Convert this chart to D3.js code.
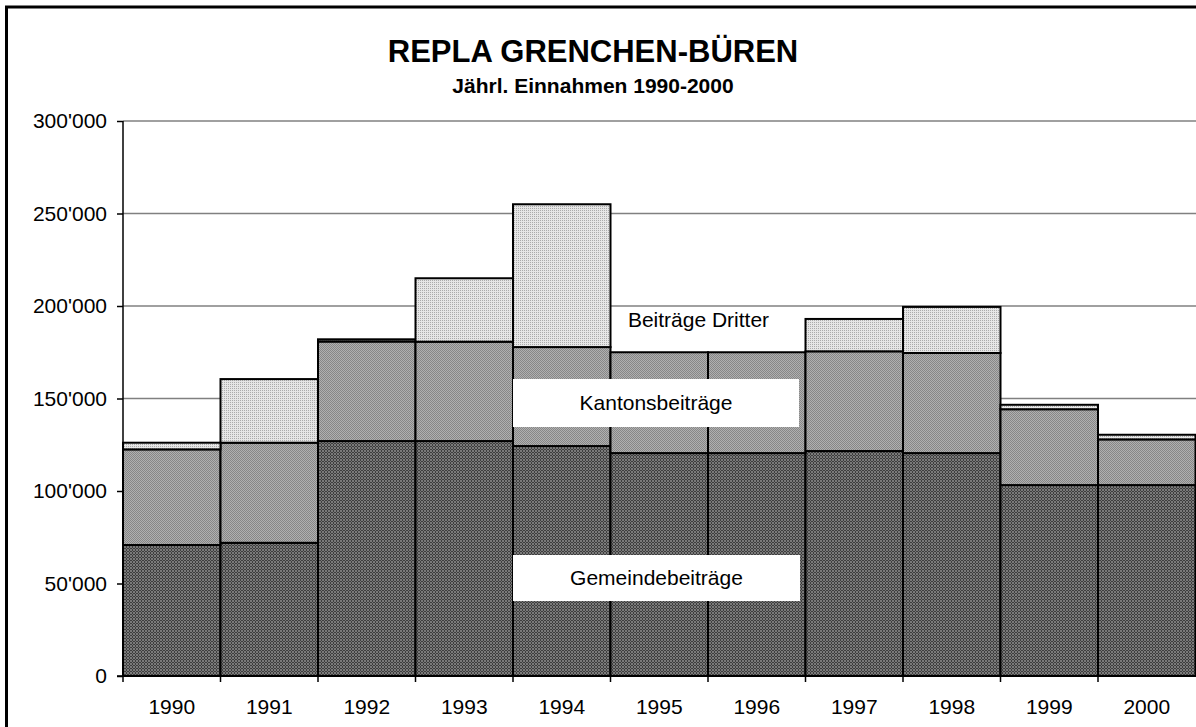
<!DOCTYPE html>
<html>
<head>
<meta charset="utf-8">
<title>REPLA GRENCHEN-BÜREN</title>
<script src="https://cdn.jsdelivr.net/npm/d3@7"></script>
<style>
	body { margin: 0; background: #fff; }
	svg { display: block; font-family: "Liberation Sans", Arial, sans-serif; }
	.grid line { stroke: #808080; stroke-width: 1.5px; }
	.bar { stroke: #000; stroke-width: 2px; }
	.axis path, .axis line { stroke: #000; stroke-width: 1.5px; }
	.axis text { font-size: 21px; fill: #000; }
</style>
</head>
<body>
<svg width="1196" height="727"></svg>
<script>
// Werte (Franken)
var years = ['1990', '1991', '1992', '1993', '1994', '1995', '1996', '1997', '1998', '1999', '2000']
var gemeinde = [70800, 72000, 127000, 127000, 124300, 120500, 120500, 121600, 120500, 103200, 103200]
var kanton = [51700, 54100, 53800, 53700, 53500, 54500, 54500, 53900, 54100, 41000, 24700]
var dritte = [3600, 34400, 1200, 34300, 77200, 0, 0, 17500, 24900, 2400, 2500]
var seriesNames = ['Gemeindebeiträge', 'Kantonsbeiträge', 'Beiträge Dritter']
var yTicks = [0, 50000, 100000, 150000, 200000, 250000, 300000]

var svg = d3.select('svg')

// Rasterfüllungen
var defs = svg.append('defs')
function pattern(id, size, bg, fg, cells) {
	var p = defs.append('pattern')
		.attr('id', id)
		.attr('patternUnits', 'userSpaceOnUse')
		.attr('width', size).attr('height', size)
	p.append('rect').attr('width', size).attr('height', size).attr('fill', bg)
	cells.forEach(function(c) {
		p.append('rect').attr('x', c[0]).attr('y', c[1])
			.attr('width', 1).attr('height', 1).attr('fill', fg)
	})
}
pattern('pGem', 3, '#7a7a7a', '#3e3e3e', [[0, 0], [0, 1], [2, 2], [1, 2]])
pattern('pKan', 2, '#b0b0b0', '#878787', [[0, 0], [1, 1]])
pattern('pDri', 2, '#e6e6e6', '#ababab', [[0, 0]])
var fills = ['url(#pGem)', 'url(#pKan)', 'url(#pDri)']

// Rahmen
svg.append('rect')
	.attr('x', 6.5).attr('y', 7)
	.attr('width', 1300).attr('height', 800)
	.attr('fill', 'none').attr('stroke', '#000').attr('stroke-width', 3)

// Titel
svg.append('text')
	.attr('x', 593).attr('y', 62)
	.attr('text-anchor', 'middle')
	.style('font-size', '31px').style('font-weight', 'bold')
	.text('REPLA GRENCHEN-BÜREN')
svg.append('text')
	.attr('x', 593).attr('y', 93)
	.attr('text-anchor', 'middle')
	.style('font-size', '21px').style('font-weight', 'bold')
	.text('Jährl. Einnahmen 1990-2000')

var x = d3.scaleBand()
	.domain(years)
	.range([123, 1195.5])
	.padding(0)

var y = d3.scaleLinear()
	.domain([0, 300000])
	.range([676, 121])

// Gitterlinien
svg.append('g').attr('class', 'grid')
	.selectAll('line')
	.data(yTicks.slice(1))
	.enter().append('line')
	.attr('x1', 123).attr('x2', 1196)
	.attr('y1', function(d) { return y(d) })
	.attr('y2', function(d) { return y(d) })

// gestapelte Säulen
var rows = years.map(function(yr, i) {
	return { year: yr, g: gemeinde[i], k: kanton[i], d: dritte[i] }
})
var stack = d3.stack().keys(['g', 'k', 'd'])(rows)

svg.append('g')
	.selectAll('g')
	.data(stack)
	.enter().append('g')
	.attr('fill', function(d, i) { return fills[i] })
	.selectAll('rect')
	.data(function(d) { return d.filter(function(s) { return s[1] > s[0] }) })
	.enter().append('rect')
	.attr('class', 'bar')
	.attr('x', function(d) { return x(d.data.year) })
	.attr('width', x.bandwidth())
	.attr('y', function(d) { return y(d[1]) })
	.attr('height', function(d) { return y(d[0]) - y(d[1]) })

// Achsen
svg.append('g').attr('class', 'axis')
	.attr('transform', 'translate(123,0)')
	.call(d3.axisLeft(y)
		.tickValues(yTicks)
		.tickSize(6)
		.tickPadding(10)
		.tickFormat(function(d) { return d3.format(',')(d).replace(/,/g, "'") }))
	.call(function(g) { g.select('.domain').attr('d', 'M0,676V121') })

var xAxis = svg.append('g').attr('class', 'axis')
	.attr('transform', 'translate(0,676)')
xAxis.append('line').attr('x1', 117).attr('x2', 1196).attr('y1', 0).attr('y2', 0)
xAxis.selectAll('line.tick')
	.data(years)
	.enter().append('line')
	.attr('x1', function(d) { return x(d) })
	.attr('x2', function(d) { return x(d) })
	.attr('y1', 0).attr('y2', 6)
xAxis.selectAll('text')
	.data(years)
	.enter().append('text')
	.attr('x', function(d) { return x(d) + x.bandwidth() / 2 })
	.attr('y', 38)
	.attr('text-anchor', 'middle')
	.text(function(d) { return d })

// Beschriftungen der Reihen
var labels = [
	{ name: seriesNames[0], x0: 513, x1: 800, y0: 555, y1: 601, box: true },
	{ name: seriesNames[1], x0: 513, x1: 799, y0: 379, y1: 427, box: true },
	{ name: seriesNames[2], x0: 620, x1: 777, y0: 308, y1: 332, box: false }
]
var lab = svg.append('g').selectAll('g').data(labels).enter().append('g')
lab.filter(function(d) { return d.box }).append('rect')
	.attr('x', function(d) { return d.x0 })
	.attr('y', function(d) { return d.y0 })
	.attr('width', function(d) { return d.x1 - d.x0 })
	.attr('height', function(d) { return d.y1 - d.y0 })
	.attr('fill', '#fff')
lab.append('text')
	.attr('x', function(d) { return (d.x0 + d.x1) / 2 })
	.attr('y', function(d) { return (d.y0 + d.y1) / 2 + 7 })
	.attr('text-anchor', 'middle')
	.style('font-size', '21px')
	.text(function(d) { return d.name })
</script>
</body>
</html>
